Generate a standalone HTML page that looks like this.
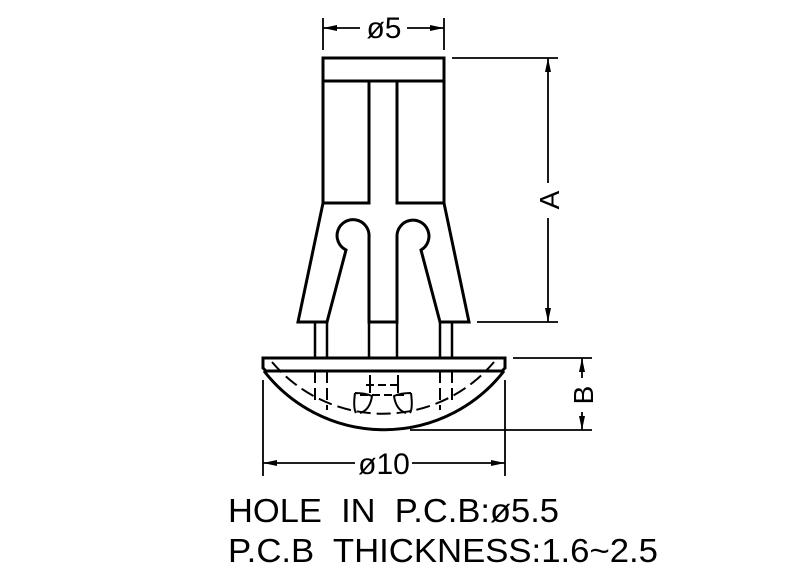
<!DOCTYPE html>
<html><head><meta charset="utf-8"><style>
html,body{margin:0;padding:0;background:#fff;}
svg{display:block;}
text{font-family:"Liberation Sans",sans-serif;fill:#000;white-space:pre;}
</style></head><body>
<svg width="800" height="576" viewBox="0 0 800 576" xmlns="http://www.w3.org/2000/svg">
<defs>
<marker id="ar" viewBox="0 0 14 6" refX="14" refY="3" markerWidth="14" markerHeight="6" orient="auto" markerUnits="userSpaceOnUse">
<path d="M0,0 L14,3 L0,6 Z" fill="#000"/>
</marker>
</defs>
<g fill="none" stroke="#000" stroke-width="3" stroke-linejoin="miter">
<rect x="323" y="58" width="121" height="23"/>
<path d="M323,81 V203 L298,322 H327 L346,250 A16,16 0 1 1 369,237 V322 H397 V237 A16,16 0 1 1 421,250 L440,322 H469 L444,203 V81"/>
<path d="M323,203 H369 V81 M397,81 V203 H444"/>
<path d="M315,322 V358 M327,322 V358 M369,322 V358 M397,322 V358 M440,322 V358 M452,322 V358" stroke-width="2.5"/>
<path d="M263,358 H505 V368 L502,371 H266 L263,368 Z"/>
<path d="M264,371 A152,152 0 0 0 504,371"/>
</g>
<g fill="none" stroke="#000" stroke-width="2">
<path d="M272,362 A145,145 0 0 0 494,362" stroke-dasharray="14,6"/>
<path d="M315,371 V405 M327,371 V410 M440,371 V410 M452,371 V405" stroke-dasharray="12,5"/>
<path d="M370,375 V393 M398,375 V393"/>
<path d="M366,385 H402 M360,395 H406" stroke-dasharray="8,4"/>
<path d="M355,393 Q353,408 356,413 M355,393 Q365,393 372,396 Q370,410 360,413"/>
<path d="M411,393 Q413,408 410,413 M411,393 Q401,393 394,396 Q396,410 406,413"/>
</g>
<g stroke="#000" stroke-width="1.8" fill="none">
<path d="M323,18 V50 M444,18 V50"/>
<path d="M360,28 H323" marker-end="url(#ar)"/>
<path d="M407,28 H444" marker-end="url(#ar)"/>
<path d="M452,58 H558 M477,322 H558"/>
<path d="M548,183 V58" marker-end="url(#ar)"/>
<path d="M548,218 V322" marker-end="url(#ar)"/>
<path d="M513,358 H592 M410,430 H592"/>
<path d="M582,378 V358" marker-end="url(#ar)"/>
<path d="M582,412 V430" marker-end="url(#ar)"/>
<path d="M263,380 V476 M505,380 V476"/>
<path d="M355,463 H263" marker-end="url(#ar)"/>
<path d="M412,463 H505" marker-end="url(#ar)"/>
</g>
<text x="384" y="38" font-size="30" text-anchor="middle">ø5</text>
<text x="384" y="474" font-size="30" text-anchor="middle">ø10</text>
<text transform="translate(559,200) rotate(-90)" font-size="28" text-anchor="middle">A</text>
<text transform="translate(593,395) rotate(-90)" font-size="28" text-anchor="middle">B</text>
<text x="228" y="522" font-size="33" textLength="331" lengthAdjust="spacingAndGlyphs">HOLE  IN  P.C.B:ø5.5</text>
<text x="228" y="562" font-size="33" textLength="430" lengthAdjust="spacingAndGlyphs">P.C.B  THICKNESS:1.6~2.5</text>
</svg>
</body></html>
